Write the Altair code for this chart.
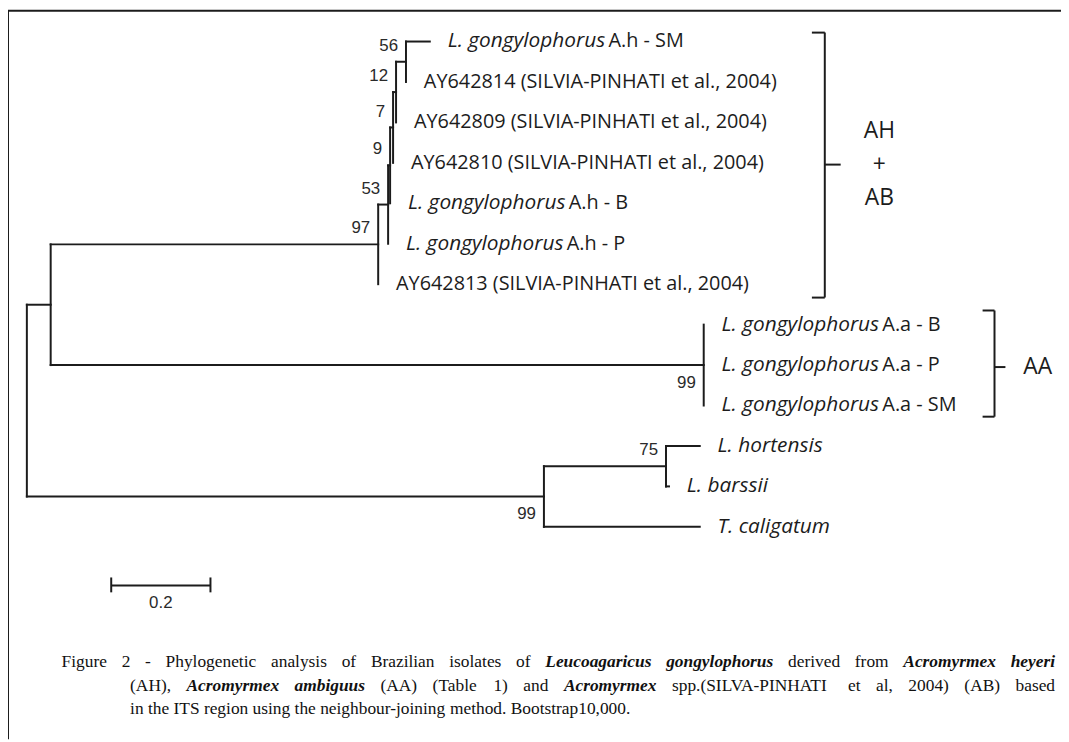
import altair as alt
import pandas as pd

# ---------------- tree data (branch lengths in substitutions/site) ----------------
node_ids = ["root", "ingroup", "outgroup", "n97", "nAA", "n53", "t813", "n9", "tP",
            "n7", "tB", "n12", "t810", "n56", "t809", "tSM", "t814",
            "tAAB", "tAAP", "tAASM", "n75", "tCal", "tHor", "tBar"]
node_parents = [None, "root", "root", "ingroup", "ingroup", "n97", "n97", "n53", "n53",
                "n9", "n9", "n7", "n7", "n12", "n12", "n56", "n56",
                "nAA", "nAA", "nAA", "outgroup", "outgroup", "n75", "n75"]
branch_lengths = [0.0, 0.048, 1.042, 0.660, 1.316, 0.020, 0.0, 0.004, 0.0,
                  0.006, 0.0, 0.006, 0.0, 0.020, 0.0, 0.048, 0.0,
                  0.0, 0.0, 0.0, 0.246, 0.314, 0.068, 0.006]

tip_order = ["tSM", "t814", "t809", "t810", "tB", "tP", "t813",
             "tAAB", "tAAP", "tAASM", "tHor", "tBar", "tCal"]
tip_italic = ["L. gongylophorus", "", "", "", "L. gongylophorus", "L. gongylophorus", "",
              "L. gongylophorus", "L. gongylophorus", "L. gongylophorus",
              "L. hortensis", "L. barssii", "T. caligatum"]
tip_regular = ["A.h - SM", "AY642814 (SILVIA-PINHATI et al., 2004)",
               "AY642809 (SILVIA-PINHATI et al., 2004)", "AY642810 (SILVIA-PINHATI et al., 2004)",
               "A.h - B", "A.h - P", "AY642813 (SILVIA-PINHATI et al., 2004)",
               "A.a - B", "A.a - P", "A.a - SM", "", "", ""]

boot_nodes = ["n56", "n12", "n7", "n9", "n53", "n97", "nAA", "outgroup", "n75"]
boot_values = [56, 12, 7, 9, 53, 97, 99, 99, 75]
boot_below = [False, False, False, False, False, False, True, True, False]

scale_bar_length = 0.2

caption_lines = [
    "Figure 2 - Phylogenetic analysis of Brazilian isolates of *Leucoagaricus gongylophorus* derived from *Acromyrmex heyeri*",
    "(AH), *Acromyrmex ambiguus* (AA) (Table 1) and *Acromyrmex* spp.(SILVA-PINHATI et al, 2004) (AB) based",
    "in the ITS region using the neighbour-joining method. Bootstrap10,000.",
]
caption_justify = [True, True, False]

# ---------------- layout constants ----------------
W, H = 1061, 734
XPU, X0 = 500.0, 19.0      # px per unit, px of root
YPU, Y0 = 40.75, 31.0      # px per tip row, px of first tip
x_dom = [-X0 / XPU, (W - X0) / XPU]
y_dom = [-Y0 / YPU, (H - Y0) / YPU]
xs = alt.Scale(domain=x_dom, nice=False, zero=False)
ys = alt.Scale(domain=y_dom, nice=False, zero=False, reverse=True)


def px2x(p):
    return (p - X0) / XPU


def px2y(p):
    return (p - Y0) / YPU


def enc(x="x", y="y", x2=None, y2=None):
    e = dict(x=alt.X(x, type="quantitative", scale=xs, axis=None),
             y=alt.Y(y, type="quantitative", scale=ys, axis=None))
    if x2:
        e["x2"] = alt.X2(x2)
    if y2:
        e["y2"] = alt.Y2(y2)
    return e


# ---------------- compute tree geometry ----------------
parent = dict(zip(node_ids, node_parents))
blen = dict(zip(node_ids, branch_lengths))
children = {n: [] for n in node_ids}
for n, p in parent.items():
    if p is not None:
        children[p].append(n)

X = {}


def depth(n):
    if n in X:
        return X[n]
    p = parent[n]
    X[n] = 0.0 if p is None else depth(p) + blen[n]
    return X[n]


for n in node_ids:
    depth(n)

Y = {t: i for i, t in enumerate(tip_order)}


def ypos(n):
    if n in Y:
        return Y[n]
    ys_ = [ypos(c) for c in children[n]]
    Y[n] = (min(ys_) + max(ys_)) / 2.0
    return Y[n]


for n in node_ids:
    ypos(n)

segs = []
for n in node_ids:
    p = parent[n]
    if p is not None and blen[n] > 0:
        segs.append(dict(x=X[p], x2=X[n], y=Y[n], y2=Y[n]))
    if children[n]:
        cy = [Y[c] for c in children[n]]
        segs.append(dict(x=X[n], x2=X[n], y=min(cy), y2=max(cy)))
seg_df = pd.DataFrame(segs)

INK = "#1c1c1c"
branches = alt.Chart(seg_df).mark_rule(color=INK, strokeWidth=2, strokeCap="square").encode(
    **enc("x", "y", "x2", "y2"))

# tip labels
lab_rows = []
for t, it, rg in zip(tip_order, tip_italic, tip_regular):
    lx = X[t] + 18 / XPU
    lab_rows.append(dict(x=lx, y=Y[t], it=it, rg=rg,
                         rx=lx + (162 / XPU if (it and rg) else 0.0)))
lab_df = pd.DataFrame(lab_rows)
LABFONT = "Open Sans"
lab_it = alt.Chart(lab_df).transform_filter("datum.it != ''").mark_text(
    align="left", baseline="middle", font=LABFONT, fontSize=21, fontStyle="italic", color=INK
).encode(text="it:N", **enc("x", "y"))
lab_rg = alt.Chart(lab_df).transform_filter("datum.rg != ''").mark_text(
    align="left", baseline="middle", font=LABFONT, fontSize=20, color=INK
).encode(text="rg:N", **enc("rx", "y"))

# bootstrap values
boot_df = pd.DataFrame(dict(x=[X[n] for n in boot_nodes], y=[Y[n] for n in boot_nodes],
                            v=[str(v) for v in boot_values], below=boot_below))
BOOTFONT = "Liberation Sans"
boot_up = alt.Chart(boot_df).transform_filter("!datum.below").mark_text(
    align="right", baseline="middle", dx=-8, dy=-16, font=BOOTFONT, fontSize=17, color="#2a2a2a"
).encode(text="v:N", **enc("x", "y"))
boot_dn = alt.Chart(boot_df).transform_filter("datum.below").mark_text(
    align="right", baseline="middle", dx=-8, dy=18, font=BOOTFONT, fontSize=17, color="#2a2a2a"
).encode(text="v:N", **enc("x", "y"))

# scale bar
sb_x0 = px2x(104)
sb_y = px2y(579)
sb_df = pd.DataFrame([
    dict(x=sb_x0, x2=sb_x0 + scale_bar_length, y=sb_y, y2=sb_y),
    dict(x=sb_x0, x2=sb_x0, y=px2y(571), y2=px2y(586)),
    dict(x=sb_x0 + scale_bar_length, x2=sb_x0 + scale_bar_length, y=px2y(571), y2=px2y(586)),
])
sbar = alt.Chart(sb_df).mark_rule(color=INK, strokeWidth=2).encode(**enc("x", "y", "x2", "y2"))
sb_lab = alt.Chart(pd.DataFrame([dict(x=sb_x0 + scale_bar_length / 2, y=px2y(597),
                                      t=f"{scale_bar_length:g}")])).mark_text(
    align="center", baseline="middle", font=BOOTFONT, fontSize=17, color="#2a2a2a"
).encode(text="t:N", **enc("x", "y"))

# brackets
def bracket(xv, ytop, ybot, ymid, hook_left, tick_right):
    return [
        dict(x=xv, x2=xv, y=ytop, y2=ybot),
        dict(x=hook_left, x2=xv, y=ytop, y2=ytop),
        dict(x=hook_left, x2=xv, y=ybot, y2=ybot),
        dict(x=xv, x2=tick_right, y=ymid, y2=ymid),
    ]


br_rows = bracket(px2x(823), px2y(22), px2y(289), px2y(155), px2x(810), px2x(839)) + \
          bracket(px2x(994), px2y(302), px2y(409), px2y(359), px2x(982), px2x(1005))
# frame: top and left edges
br_rows += [dict(x=x_dom[0], x2=x_dom[1], y=px2y(0), y2=px2y(0)),
            dict(x=px2x(0), x2=px2x(0), y=y_dom[0], y2=y_dom[1])]
brackets = alt.Chart(pd.DataFrame(br_rows)).mark_rule(color=INK, strokeWidth=2).encode(
    **enc("x", "y", "x2", "y2"))

grp_df = pd.DataFrame(dict(t=["AH", "+", "AB"], x=[px2x(878)] * 3,
                           y=[px2y(121), px2y(155), px2y(189)]))
grp = alt.Chart(grp_df).mark_text(align="center", baseline="middle", font=LABFONT,
                                  fontSize=23, color=INK).encode(text="t:N", **enc("x", "y"))
aa = alt.Chart(pd.DataFrame(dict(t=["AA"], x=[px2x(1023)], y=[px2y(359)]))).mark_text(
    align="left", baseline="middle", font=LABFONT, fontSize=23, color=INK
).encode(text="t:N", **enc("x", "y"))

# caption (justified like the original)
TR = {' ': 250, '(': 333, ')': 333, ',': 250, '-': 333, '.': 250, 'A': 722, 'B': 667,
      'F': 556, 'H': 722, 'I': 333, 'L': 611, 'N': 722, 'P': 556, 'S': 556, 'T': 611,
      'V': 722, 'a': 444, 'b': 500, 'c': 444, 'd': 500, 'e': 444, 'f': 333, 'g': 500,
      'h': 500, 'i': 278, 'j': 278, 'k': 500, 'l': 278, 'm': 778, 'n': 500, 'o': 500,
      'p': 500, 'r': 333, 's': 389, 't': 278, 'u': 500, 'v': 500, 'y': 500, 'z': 444}
TBI = {'A': 667, 'L': 611, 'a': 500, 'b': 500, 'c': 444, 'e': 444, 'g': 500, 'h': 556,
       'i': 278, 'l': 278, 'm': 778, 'n': 556, 'o': 500, 'p': 500, 'r': 389, 's': 389,
       'u': 556, 'x': 500, 'y': 444}
CAP_SIZE = 17.5


def width(word, bi):
    tbl = TBI if bi else TR
    return sum(tbl.get(c, 500) for c in word) * CAP_SIZE / 1000.0


line_left = [54, 123, 123]
line_right = 1055
line_y = [656, 680, 704]
cap_rows = []
for li, (line, just) in enumerate(zip(caption_lines, caption_justify)):
    words = []
    bi = False
    for w in line.split(" "):
        start = w.startswith("*")
        end = w.endswith("*")
        if start:
            bi = True
        words.append((w.strip("*"), bi))
        if end:
            bi = False
    widths = [width(w, b) for w, b in words]
    if just and len(words) > 1:
        gap = (line_right - line_left[li] - sum(widths)) / (len(words) - 1)
    else:
        gap = 250 * CAP_SIZE / 1000.0
    cx = line_left[li]
    for (w, b), wd in zip(words, widths):
        cap_rows.append(dict(t=w, bi=b, x=px2x(cx), y=px2y(line_y[li])))
        cx += wd + gap
cap_df = pd.DataFrame(cap_rows)
cap_reg = alt.Chart(cap_df).transform_filter("!datum.bi").mark_text(
    align="left", baseline="middle", font="Liberation Serif", fontSize=CAP_SIZE, color="#111"
).encode(text="t:N", **enc("x", "y"))
cap_bi = alt.Chart(cap_df).transform_filter("datum.bi").mark_text(
    align="left", baseline="middle", font="Liberation Serif", fontSize=CAP_SIZE,
    fontStyle="italic", fontWeight="bold", color="#111"
).encode(text="t:N", **enc("x", "y"))

chart = alt.layer(
    branches, lab_it, lab_rg, boot_up, boot_dn, sbar, sb_lab,
    brackets, grp, aa, cap_reg, cap_bi
).properties(
    width=W, height=H, padding=0, autosize=alt.AutoSizeParams(type="none"), background="white"
).configure_view(stroke=None)

chart.save("out.html", embed_options={"renderer": "svg", "actions": False})
